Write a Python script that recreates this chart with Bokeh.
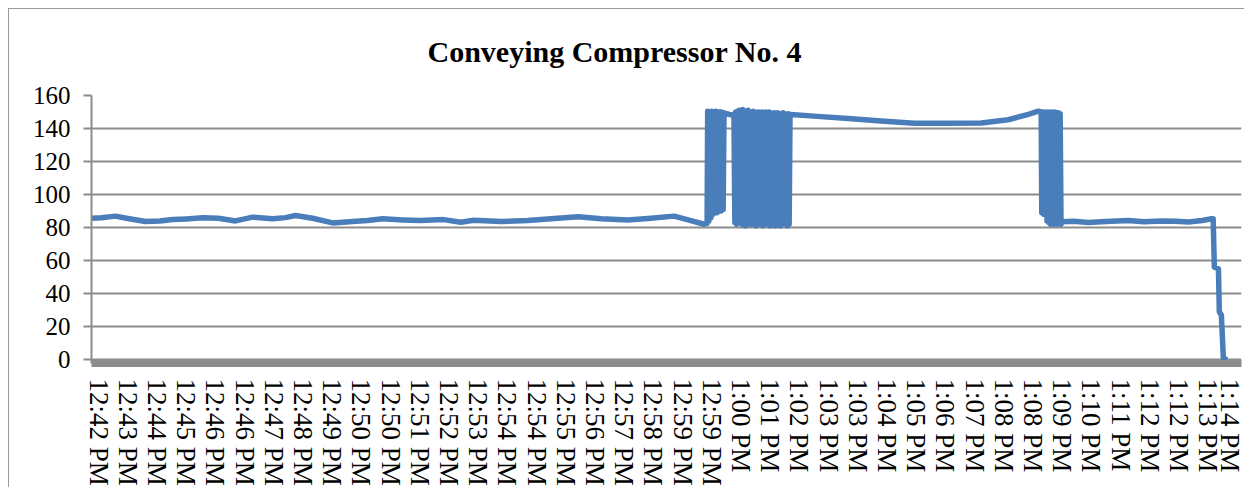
from bokeh.plotting import figure
from bokeh.models import Range1d, FixedTicker
from bokeh.embed import file_html
from bokeh.resources import INLINE

# ---------------- data ----------------
chart_title = "Conveying Compressor No. 4"
tick_labels = ["12:42 PM", "12:43 PM", "12:44 PM", "12:45 PM", "12:46 PM", "12:46 PM",
               "12:47 PM", "12:48 PM", "12:49 PM", "12:50 PM", "12:50 PM", "12:51 PM",
               "12:52 PM", "12:53 PM", "12:54 PM", "12:54 PM", "12:55 PM", "12:56 PM",
               "12:57 PM", "12:58 PM", "12:59 PM", "12:59 PM", "1:00 PM", "1:01 PM",
               "1:02 PM", "1:03 PM", "1:03 PM", "1:04 PM", "1:05 PM", "1:06 PM",
               "1:07 PM", "1:08 PM", "1:08 PM", "1:09 PM", "1:10 PM", "1:11 PM",
               "1:12 PM", "1:12 PM", "1:13 PM", "1:14 PM"]
y_ticks = [0, 20, 40, 60, 80, 100, 120, 140, 160]

# time position (in tick-label units) and reading, per stretch of the record
steady_a_t = [-0.24, 0.10, 0.58, 1.00, 1.61, 2.10, 2.54, 3.00, 3.56, 4.11, 4.69, 5.28,
              5.96, 6.40, 6.75, 7.33, 8.02, 8.70, 9.20, 9.73, 10.42, 11.03, 11.82, 12.41,
              12.85, 13.78, 14.70, 15.49, 16.42, 17.22, 18.13, 18.92, 19.71, 20.19, 20.74, 20.84]
steady_a_v = [85.6, 85.9, 86.9, 85.5, 83.6, 84.0, 84.8, 85.2, 85.9, 85.6, 84.0, 86.3,
              85.3, 86.0, 87.3, 85.6, 82.8, 83.6, 84.2, 85.3, 84.6, 84.2, 84.8, 83.2,
              84.4, 83.6, 84.2, 85.3, 86.5, 85.3, 84.6, 85.6, 86.9, 84.6, 82.0, 82.5]

burst_a_t = [20.86, 20.90, 20.93, 20.97, 21.00, 21.04, 21.07, 21.11, 21.14, 21.18, 21.21,
             21.25, 21.28, 21.32, 21.35, 21.39, 21.42]
burst_a_v = [150.5, 84, 150.0, 86, 150.5, 88, 150.0, 90, 150.5, 89, 150.0,
             91, 150.2, 90, 149.8, 91, 149.5]

hold_a_t = [21.60, 21.76]
hold_a_v = [148.5, 148.2]

burst_b_t = [21.79, 21.82, 21.85, 21.88, 21.91, 21.94, 21.97, 22.00, 22.03, 22.06,
             22.09, 22.12, 22.15, 22.18, 22.21, 22.24, 22.27, 22.30, 22.33, 22.36,
             22.39, 22.42, 22.45, 22.48, 22.51, 22.54, 22.57, 22.60, 22.63, 22.66,
             22.69, 22.72, 22.75, 22.78, 22.81, 22.84, 22.87, 22.90, 22.93, 22.96,
             22.99, 23.02, 23.05, 23.08, 23.11, 23.14, 23.17, 23.20, 23.23, 23.26,
             23.29, 23.32, 23.35, 23.38, 23.41, 23.44, 23.47, 23.50, 23.53, 23.56,
             23.59, 23.62, 23.65, 23.68]
burst_b_v = [83, 150, 82, 150.5, 84, 151, 83, 150, 82, 151.5,
             83, 150.5, 81, 150, 82, 151, 83, 150, 82, 149.5,
             84, 150.5, 82, 150, 81, 149.5, 82, 150, 83, 149,
             82, 150, 81, 149.5, 82, 150, 83, 149, 82, 150,
             81, 149.5, 83, 149, 82, 149.5, 81, 149, 82, 149.5,
             83, 149, 81, 149, 82, 149.5, 83, 149, 82, 148.5,
             81, 149, 82, 148.5]

steady_b_t = [23.71, 24.50, 25.67, 26.80, 27.93, 29.10, 30.23, 31.15, 31.84, 32.18]
steady_b_v = [148.5, 147.5, 146.0, 144.5, 143.2, 143.2, 143.3, 145.3, 148.6, 150.5]

burst_c_t = [32.28, 32.30, 32.33, 32.36, 32.39, 32.42, 32.45, 32.48, 32.51, 32.54,
             32.57, 32.60, 32.63, 32.66, 32.69, 32.72, 32.75, 32.78, 32.81, 32.84,
             32.87, 32.90, 32.93, 32.96]
burst_c_v = [150, 89, 150, 88, 150, 90, 149.5, 84, 150, 83,
             149.5, 82, 150, 83, 149.5, 82, 150, 83, 149, 82,
             149.5, 83, 149, 82]

tail_t = [32.99, 33.40, 33.89, 34.50, 35.26, 35.80, 36.39, 36.90, 37.32, 37.80,
          38.11, 38.17, 38.21, 38.35, 38.38, 38.45, 38.52, 38.66]
tail_v = [83.5, 83.8, 83.0, 83.6, 84.2, 83.5, 84.0, 83.8, 83.3, 84.3,
          85.3, 85.3, 56.0, 55.0, 29.0, 27.0, 0.5, 0.0]

time_pos = steady_a_t + burst_a_t + hold_a_t + burst_b_t + steady_b_t + burst_c_t + tail_t
reading = steady_a_v + burst_a_v + hold_a_v + burst_b_v + steady_b_v + burst_c_v + tail_v
assert len(time_pos) == len(reading)

# ---------------- figure ----------------
FONT = "Liberation Serif"
GRAY = "#8c8c8c"

p = figure(width=1236, height=479,
           x_range=Range1d(-0.24, 39.14), y_range=Range1d(-2.4, 160),
           output_backend="svg", toolbar_location=None,
           min_border_left=82, min_border_right=4,
           min_border_top=86, min_border_bottom=125)

p.styles = {"margin-left": "8px", "margin-top": "8px",
            "border-left": "1px solid #9a9a9a", "border-top": "1px solid #9a9a9a"}
p.outline_line_color = None
p.background_fill_color = "white"
p.border_fill_color = "white"

p.title.text = chart_title
p.title.align = "left"
p.title.vertical_align = "top"
p.title.text_font = FONT
p.title.text_font_style = "bold"
p.title.text_font_size = "30px"
p.title.text_color = "black"
p.title.standoff = 51
p.title.offset = 336

p.line(time_pos, reading, line_color="#4a7ebb", line_width=5.5, line_join="round")

# x axis
p.xaxis.ticker = FixedTicker(ticks=list(range(len(tick_labels))))
p.xaxis.major_label_overrides = {i: lab for i, lab in enumerate(tick_labels)}
p.xaxis.major_label_orientation = "vertical"
p.xaxis.major_label_text_font = FONT
p.xaxis.major_label_text_font_size = "27px"
p.xaxis.major_label_text_color = "black"
p.xaxis.major_label_standoff = 9
p.xaxis.major_tick_line_color = None
p.xaxis.minor_tick_line_color = None
p.xaxis.axis_line_color = GRAY
p.xaxis.axis_line_width = 7

# y axis
p.yaxis.ticker = FixedTicker(ticks=y_ticks)
p.yaxis.major_label_text_font = FONT
p.yaxis.major_label_text_font_size = "25px"
p.yaxis.major_label_text_color = "black"
p.yaxis.major_label_standoff = 13
p.yaxis.major_tick_out = 8
p.yaxis.major_tick_in = 0
p.yaxis.major_tick_line_color = GRAY
p.yaxis.major_tick_line_width = 2
p.yaxis.minor_tick_line_color = None
p.yaxis.axis_line_color = GRAY
p.yaxis.axis_line_width = 2

p.xgrid.visible = False
p.ygrid.ticker = FixedTicker(ticks=y_ticks)
p.ygrid.grid_line_color = GRAY
p.ygrid.grid_line_width = 2

open("out.html", "w").write(file_html(p, INLINE))
